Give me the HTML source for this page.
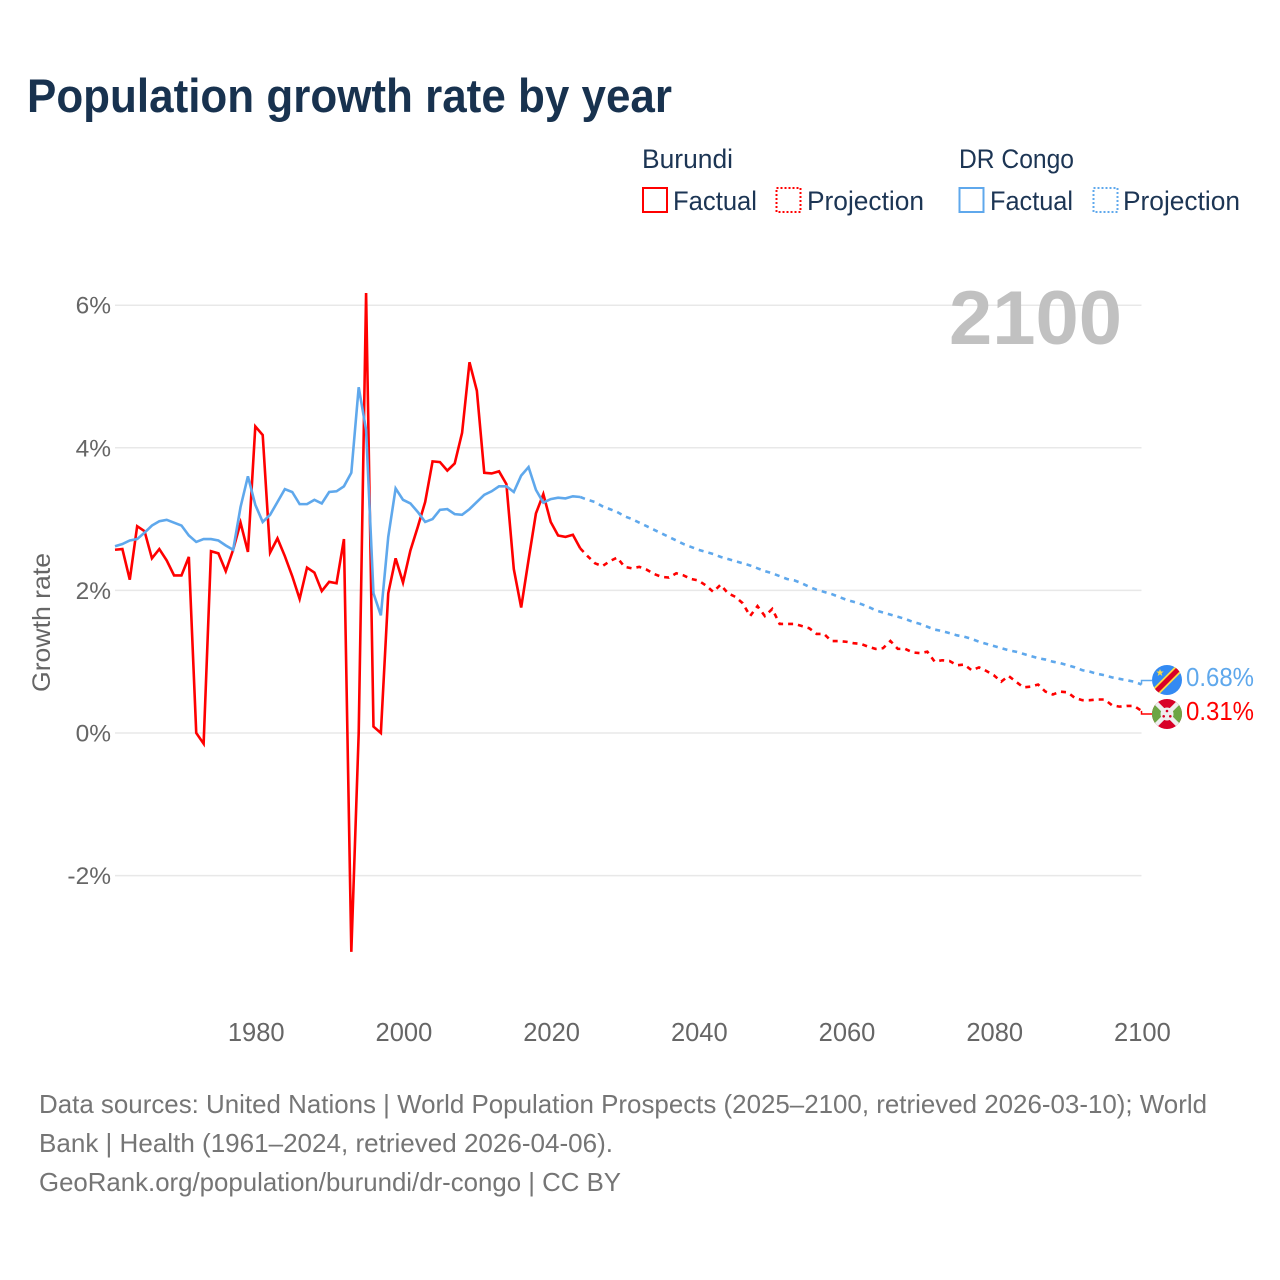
<!DOCTYPE html>
<html lang="en">
<head>
<meta charset="utf-8">
<title>Population growth rate by year</title>
<style>
html,body{margin:0;padding:0;background:#fff;}
svg{display:block;}
text{font-family:"Liberation Sans",sans-serif;}
</style>
</head>
<body>
<svg id="chart" xmlns="http://www.w3.org/2000/svg" width="1280" height="1280" viewBox="0 0 1280 1280">
  <defs>
    <clipPath id="clip-drc"><circle cx="1167" cy="680" r="15"/></clipPath>
    <clipPath id="clip-bdi"><circle cx="1167" cy="714" r="15"/></clipPath>
  </defs>
  <rect x="0" y="0" width="1280" height="1280" fill="#fff"/>
  <text x="27" y="112" font-size="47" font-weight="700" fill="#18324f" textLength="645" lengthAdjust="spacingAndGlyphs">Population growth rate by year</text>

  <g font-size="27" fill="#1c3554">
    <text x="642" y="168" textLength="91" lengthAdjust="spacingAndGlyphs">Burundi</text>
    <text x="959" y="168" textLength="115" lengthAdjust="spacingAndGlyphs">DR Congo</text>
    <rect x="643" y="188" width="24" height="24" fill="none" stroke="#ff0000" stroke-width="2"/>
    <text x="673" y="210" textLength="84" lengthAdjust="spacingAndGlyphs">Factual</text>
    <rect x="776.5" y="188" width="24" height="24" fill="none" stroke="#ff0000" stroke-width="2" stroke-dasharray="2 2"/>
    <text x="807" y="210" textLength="117" lengthAdjust="spacingAndGlyphs">Projection</text>
    <rect x="959.5" y="188" width="24" height="24" fill="none" stroke="#5fa8ec" stroke-width="2"/>
    <text x="990" y="210" textLength="83" lengthAdjust="spacingAndGlyphs">Factual</text>
    <rect x="1093.5" y="188" width="24" height="24" fill="none" stroke="#5fa8ec" stroke-width="2" stroke-dasharray="2 2"/>
    <text x="1123" y="210" textLength="117" lengthAdjust="spacingAndGlyphs">Projection</text>
  </g>

  <g id="grid"></g>
  <text x="949" y="344" font-size="76" font-weight="700" fill="#c1c1c1" textLength="173" lengthAdjust="spacingAndGlyphs">2100</text>
  <g id="y-ticks"></g>
  <g id="x-ticks"></g>
  <text transform="translate(50,692) rotate(-90)" font-size="25" fill="#666" textLength="139" lengthAdjust="spacingAndGlyphs">Growth rate</text>
  <g id="series"></g>

  <g clip-path="url(#clip-drc)">
    <rect x="1150" y="663" width="34" height="34" fill="#338af3"/>
    <line x1="1150" y1="697.5" x2="1185" y2="662.5" stroke="#ffda44" stroke-width="8.5"/>
    <line x1="1150" y1="697.5" x2="1185" y2="662.5" stroke="#d80027" stroke-width="5"/>
    <polygon points="1160,669 1161,671.500 1163.700,671.500 1161.500,673.200 1162.300,676 1160,674.300 1157.700,676 1158.500,673.200 1156.300,671.500 1159,671.500" fill="#ffda44"/>
  </g>
  <g clip-path="url(#clip-bdi)">
    <rect x="1150" y="697" width="34" height="34" fill="#d80027"/>
    <polygon points="1150,697 1167,714 1150,731" fill="#6da544"/>
    <polygon points="1184,697 1167,714 1184,731" fill="#6da544"/>
    <path d="M1150,697 L1184,731 M1184,697 L1150,731" stroke="#eeeeee" stroke-width="4.5" fill="none"/>
    <circle cx="1167" cy="714" r="6.500" fill="#eeeeee"/>
    <circle cx="1167" cy="711" r="1.300" fill="#d80027"/>
    <circle cx="1163.700" cy="716.300" r="1.300" fill="#d80027"/>
    <circle cx="1170.300" cy="716.300" r="1.300" fill="#d80027"/>
  </g>
  <text id="label-drc" x="1186" y="686" font-size="26" fill="#5fa8ec" textLength="68" lengthAdjust="spacingAndGlyphs">0.68%</text>
  <text id="label-bdi" x="1186" y="720" font-size="26" fill="#ff0000" textLength="68" lengthAdjust="spacingAndGlyphs">0.31%</text>

  <g font-size="26" fill="#757575">
    <text x="39" y="1113" textLength="1168" lengthAdjust="spacingAndGlyphs">Data sources: United Nations | World Population Prospects (2025–2100, retrieved 2026-03-10); World</text>
    <text x="39" y="1152" textLength="574" lengthAdjust="spacingAndGlyphs">Bank | Health (1961–2024, retrieved 2026-04-06).</text>
    <text x="39" y="1191" textLength="582" lengthAdjust="spacingAndGlyphs">GeoRank.org/population/burundi/dr-congo | CC BY</text>
  </g>
</svg>
<script>
var firstYear = 1961;
var lastFactualYear = 2024;
var yTickValues = [6, 4, 2, 0, -2];
var yTickLabels = ["6%", "4%", "2%", "0%", "-2%"];
var xTickValues = [1980, 2000, 2020, 2040, 2060, 2080, 2100];
var xTickLabels = ["1980", "2000", "2020", "2040", "2060", "2080", "2100"];

var burundiValues = [
2.57,2.58,2.15,2.90,2.83,2.45,2.58,2.42,2.21,2.21,
2.47,0.00,-0.15,2.55,2.52,2.27,2.57,2.95,2.54,4.30,
4.18,2.53,2.73,2.48,2.20,1.88,2.32,2.25,1.99,2.12,
2.10,2.72,-3.07,0.00,6.17,0.09,0.00,1.96,2.45,2.11,
2.56,2.89,3.24,3.81,3.80,3.68,3.78,4.21,5.20,4.80,
3.65,3.64,3.67,3.49,2.30,1.76,2.43,3.08,3.35,2.96,
2.77,2.75,2.78,2.59,
2.48,2.38,2.34,2.41,2.46,2.33,2.31,2.33,2.29,2.23,
2.19,2.18,2.24,2.21,2.16,2.14,2.07,1.98,2.08,1.96,
1.91,1.82,1.64,1.78,1.64,1.74,1.53,1.53,1.53,1.50,
1.47,1.39,1.39,1.29,1.29,1.28,1.26,1.25,1.21,1.18,
1.19,1.29,1.18,1.18,1.13,1.12,1.14,1.00,1.02,1.01,
0.95,0.96,0.88,0.92,0.87,0.81,0.72,0.80,0.72,0.64,
0.65,0.68,0.58,0.54,0.58,0.57,0.49,0.46,0.46,0.47,
0.47,0.39,0.37,0.38,0.38,0.31];

var drCongoValues = [
2.62,2.65,2.70,2.72,2.81,2.91,2.97,2.99,2.95,2.91,
2.77,2.68,2.72,2.72,2.70,2.63,2.57,3.17,3.60,3.20,
2.96,3.06,3.24,3.42,3.38,3.21,3.21,3.27,3.22,3.38,
3.39,3.46,3.65,4.85,4.25,1.96,1.65,2.75,3.43,3.27,
3.22,3.10,2.96,3.00,3.13,3.14,3.07,3.06,3.14,3.24,
3.34,3.39,3.46,3.46,3.38,3.61,3.73,3.41,3.23,3.28,
3.30,3.29,3.32,3.31,
3.27,3.24,3.18,3.14,3.10,3.04,3.00,2.95,2.90,2.85,
2.80,2.75,2.70,2.65,2.61,2.57,2.54,2.51,2.47,2.44,
2.41,2.38,2.35,2.31,2.27,2.24,2.20,2.16,2.14,2.10,
2.05,2.01,1.98,1.95,1.91,1.87,1.84,1.81,1.77,1.72,
1.69,1.66,1.63,1.60,1.56,1.53,1.49,1.45,1.43,1.40,
1.37,1.35,1.32,1.28,1.25,1.22,1.19,1.16,1.14,1.11,
1.08,1.05,1.03,1.00,0.98,0.95,0.92,0.88,0.86,0.83,
0.81,0.78,0.76,0.74,0.72,0.68];

var SVG_NS = "http://www.w3.org/2000/svg";
function xScale(year) { return 115 + (year - 1961) * 7.385; }
function yScale(value) { return 733 - value * 71.3; }

var gridGroup = document.getElementById("grid");
var yTickGroup = document.getElementById("y-ticks");
var xTickGroup = document.getElementById("x-ticks");
var seriesGroup = document.getElementById("series");

yTickValues.forEach(function (v, i) {
  var line = document.createElementNS(SVG_NS, "line");
  
  
  line.setAttribute("x1", 115);
  line.setAttribute("x2", 1141.5);
  line.setAttribute("y1", yScale(v));
  line.setAttribute("y2", yScale(v));
  line.setAttribute("stroke", "#e8e8e8");
  line.setAttribute("stroke-width", "1.5");
  gridGroup.appendChild(line);

  var label = document.createElementNS(SVG_NS, "text");
  
  
  label.setAttribute("x", 111);
  label.setAttribute("y", yScale(v) + 8.5);
  label.setAttribute("text-anchor", "end");
  label.setAttribute("font-size", "24.5");
  label.setAttribute("fill", "#666");
  label.textContent = yTickLabels[i];
  yTickGroup.appendChild(label);
});

xTickValues.forEach(function (v, i) {
  var label = document.createElementNS(SVG_NS, "text");
  
  
  label.setAttribute("x", xScale(v) + 0.9);
  label.setAttribute("y", 1041);
  label.setAttribute("text-anchor", "middle");
  label.setAttribute("font-size", "25.5");
  label.setAttribute("fill", "#666");
  label.textContent = xTickLabels[i];
  xTickGroup.appendChild(label);
});

function pointsFor(values, fromYear, toYear) {
  var pts = [];
  values.forEach(function (v, i) {
    var year = firstYear + i;
    if (year >= fromYear && year <= toYear) {
      pts.push(xScale(year).toFixed(2) + "," + yScale(v).toFixed(2));
    }
  });
  return pts.join(" ");
}

function drawLine(values, color, seriesName) {
  var lastYear = firstYear + values.length - 1;
  var proj = document.createElementNS(SVG_NS, "polyline");
  
  
  proj.setAttribute("data-series", seriesName);
  proj.setAttribute("points", pointsFor(values, lastFactualYear, lastYear));
  proj.setAttribute("fill", "none");
  proj.setAttribute("stroke", color);
  proj.setAttribute("stroke-width", "2.6");
  proj.setAttribute("stroke-dasharray", "5 5");
  seriesGroup.appendChild(proj);

  var fact = document.createElementNS(SVG_NS, "polyline");
  
  
  fact.setAttribute("data-series", seriesName);
  fact.setAttribute("points", pointsFor(values, firstYear, lastFactualYear));
  fact.setAttribute("fill", "none");
  fact.setAttribute("stroke", color);
  fact.setAttribute("stroke-width", "2.6");
  fact.setAttribute("stroke-linejoin", "miter");
  seriesGroup.appendChild(fact);
}

function drawConnector(values, flagY, color) {
  var lastYear = firstYear + values.length - 1;
  var x = xScale(lastYear);
  var conn = document.createElementNS(SVG_NS, "polyline");
  
  
  conn.setAttribute("points", x + "," + yScale(values[values.length - 1]) + " " + x + "," + flagY + " 1152," + flagY);
  conn.setAttribute("fill", "none");
  conn.setAttribute("stroke", color);
  conn.setAttribute("stroke-width", "1.5");
  seriesGroup.appendChild(conn);
}

drawLine(burundiValues, "#ff0000", "burundi");
drawLine(drCongoValues, "#5fa8ec", "dr-congo");
drawConnector(burundiValues, 714, "#ff0000");
drawConnector(drCongoValues, 680.5, "#5fa8ec");
</script>
</body>
</html>
